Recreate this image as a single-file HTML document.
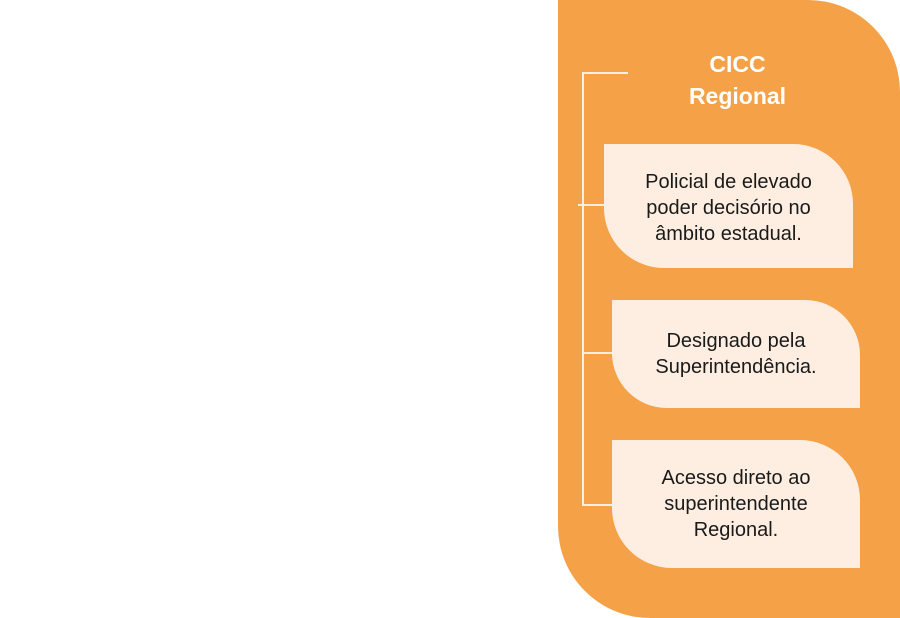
<!DOCTYPE html>
<html><head><style>
body{margin:0;width:900px;height:618px;background:#fff;position:relative;overflow:hidden;font-family:"Liberation Sans",sans-serif}
.bg{position:absolute;left:558px;top:0;width:342px;height:618px;background:#F4A148;border-radius:0 92px 0 92px}
.l{position:absolute;background:#FDEEE1}
.box{position:absolute;background:#FDEEE1;border-radius:0 60px 0 60px;display:flex;align-items:center;justify-content:center;text-align:center;color:#1a1a1a;font-size:20px;line-height:26px}
.t{position:absolute;left:660px;width:155px;text-align:center;color:#fff;font-size:23px;font-weight:bold;line-height:32px;top:48px}
</style></head><body>
<div class="bg"></div>
<div class="l" style="left:582px;top:72px;width:2px;height:434px"></div>
<div class="l" style="left:582px;top:72px;width:46px;height:2px"></div>
<div class="l" style="left:578px;top:204px;width:27px;height:2px"></div>
<div class="l" style="left:582px;top:352px;width:31px;height:2px"></div>
<div class="l" style="left:582px;top:504px;width:31px;height:2px"></div>
<div class="t">CICC<br>Regional</div>
<div class="box" style="left:604px;top:144px;width:249px;height:124px;padding-top:4px;box-sizing:border-box">Policial de elevado<br>poder decisório no<br>âmbito estadual.</div>
<div class="box" style="left:612px;top:300px;width:248px;height:108px;border-radius:0 55px 0 55px">Designado pela<br>Superintendência.</div>
<div class="box" style="left:612px;top:440px;width:248px;height:128px">Acesso direto ao<br>superintendente<br>Regional.</div>
</body></html>
